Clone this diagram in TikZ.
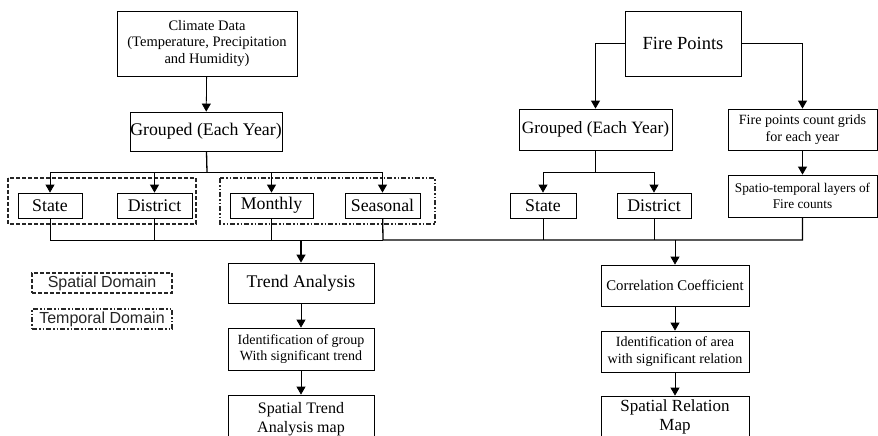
\documentclass[tikz,border=0pt]{standalone}
\usepackage{fontspec}
\setmainfont{Liberation Serif}
\setsansfont{Liberation Sans}
\usetikzlibrary{arrows.meta}
\tikzset{
  box/.style={draw, line width=0.8pt, inner sep=0pt, align=center},
  fbig/.style={font=\fontsize{17.8}{20}\selectfont},
  fmid/.style={font=\fontsize{14.5}{16.7}\selectfont},
  fsm/.style={font=\fontsize{13.3}{16.7}\selectfont},
  arr/.style={line width=0.8pt, -{Triangle[length=8pt,width=9pt]}},
  ln/.style={line width=0.8pt},
  thk/.style={line width=1.3pt},
  spdash/.style={draw, line width=1.2pt, dash pattern=on 4pt off 2pt, color=black!85},
  tmdash/.style={draw, line width=1.2pt, dash pattern=on 5pt off 2pt on 1.5pt off 2pt on 1.5pt off 2pt, color=black!85},
}
\begin{document}
\begin{tikzpicture}[x=1pt,y=-1pt]
\useasboundingbox (0,0) rectangle (878,436);
\clip (0,0) rectangle (878,436);

% domain frames
\path[spdash] (8,178) rectangle (196,224);
\path[tmdash] (220,178) rectangle (435,224);

% left branch
\node[box,fmid,minimum width=180pt,minimum height=65pt] (clim) at (207,43.5) {Climate Data\\(Temperature, Precipitation\\and Humidity)};
\node[box,fbig,minimum width=152pt,minimum height=39pt] (grp1) at (206,131.5) {Grouped (Each Year)};
\node[box,fbig,minimum width=64pt,minimum height=25pt] (st1) at (50,205.5) {State};
\node[box,fbig,minimum width=75pt,minimum height=25pt] (di1) at (154.5,205.5) {District};
\node[box,fbig,minimum width=83pt,minimum height=25pt] (mo) at (271.5,205.5) {Monthly};
\node[box,fbig,minimum width=75pt,minimum height=25pt] (se) at (382.5,205.5) {Seasonal};
\node[box,fbig,minimum width=146pt,minimum height=40pt] (trend) at (301,283) {Trend Analysis};
\node[box,font=\fontsize{14}{16.7}\selectfont,minimum width=146pt,minimum height=42pt] (idg) at (301,349) {Identification of group\\With significant trend};
\node[box,font=\fontsize{16}{18.5}\selectfont,minimum width=146pt,minimum height=48pt] (stm) at (301,419) {Spatial Trend\\Analysis map};

% right branch
\node[box,font=\fontsize{18.5}{20}\selectfont,minimum width=116pt,minimum height=65pt] (fire) at (683,43.5) {Fire Points};
\node[box,font=\fontsize{17.3}{20}\selectfont,minimum width=153pt,minimum height=41pt] (grp2) at (595.5,129.5) {Grouped (Each Year)};
\node[box,font=\fontsize{14.1}{16.7}\selectfont,minimum width=149pt,minimum height=41pt] (fcg) at (802.5,129.5) {Fire points count grids\\for each year};
\node[box,fbig,minimum width=66pt,minimum height=25pt] (st2) at (543,205.5) {State};
\node[box,fbig,minimum width=74pt,minimum height=25pt] (di2) at (654,205.5) {District};
\node[box,fsm,minimum width=149pt,minimum height=42pt] (stl) at (802.5,196) {Spatio-temporal layers of\\Fire counts};
\node[box,font=\fontsize{14.8}{16.7}\selectfont,minimum width=148pt,minimum height=41pt] (corr) at (675,285.5) {Correlation Coefficient};
\node[box,font=\fontsize{14.1}{16.7}\selectfont,minimum width=148pt,minimum height=41pt] (ida) at (675,351.5) {Identification of area\\with significant relation};
\node[box,font=\fontsize{17}{19}\selectfont,minimum width=148pt,minimum height=42pt] (srm) at (675,417) {Spatial Relation\\Map};

% legend
\node[spdash,font=\sffamily\fontsize{16}{18}\selectfont,minimum width=140pt,minimum height=20pt,inner sep=0pt] (leg1) at (102,283) {Spatial Domain};
\node[tmdash,font=\sffamily\fontsize{16}{18}\selectfont,minimum width=140pt,minimum height=20pt,inner sep=0pt] (leg2) at (102,319) {Temporal Domain};

% junction coordinates
\coordinate (b1) at (207,172);
\coordinate (b2) at (595.5,172);
\coordinate (jl) at (383,240);
\coordinate (jt) at (301,240);
\coordinate (jc) at (675,240);
\coordinate (jr) at (802.5,240);

% left connectors
\draw[arr] (clim) -- (grp1);
\draw[thk] (grp1) -- (b1);
\draw[arr] (b1) -| (st1);
\draw[arr] (b1) -| (di1);
\draw[arr] (b1) -| (mo);
\draw[arr] (b1) -| (se);
\draw[ln] (st1) |- (jl);
\draw[ln] (di1) -- (di1 |- jl);
\draw[ln] (mo) -- (mo |- jl);
\draw[thk] (se) -- (jl) -- (jr) -- (stl);
\draw[ln] (st2) -- (st2 |- jr);
\draw[ln] (di2) -- (di2 |- jr);
\draw[arr,line width=1.3pt] (jt) -- (trend);
\draw[arr] (trend) -- (idg);
\draw[arr] (idg) -- (stm);

% right connectors
\draw[arr] (fire.west) -| (grp2.north);
\draw[arr] (fire.east) -| (fcg.north);
\draw[ln] (grp2) -- (b2);
\draw[arr] (b2) -| (st2);
\draw[arr] (b2) -| (di2);
\draw[arr] (fcg) -- (stl);
\draw[arr] (jc) -- (corr);
\draw[arr] (corr) -- (ida);
\draw[arr] (ida) -- (srm);
\end{tikzpicture}
\end{document}
